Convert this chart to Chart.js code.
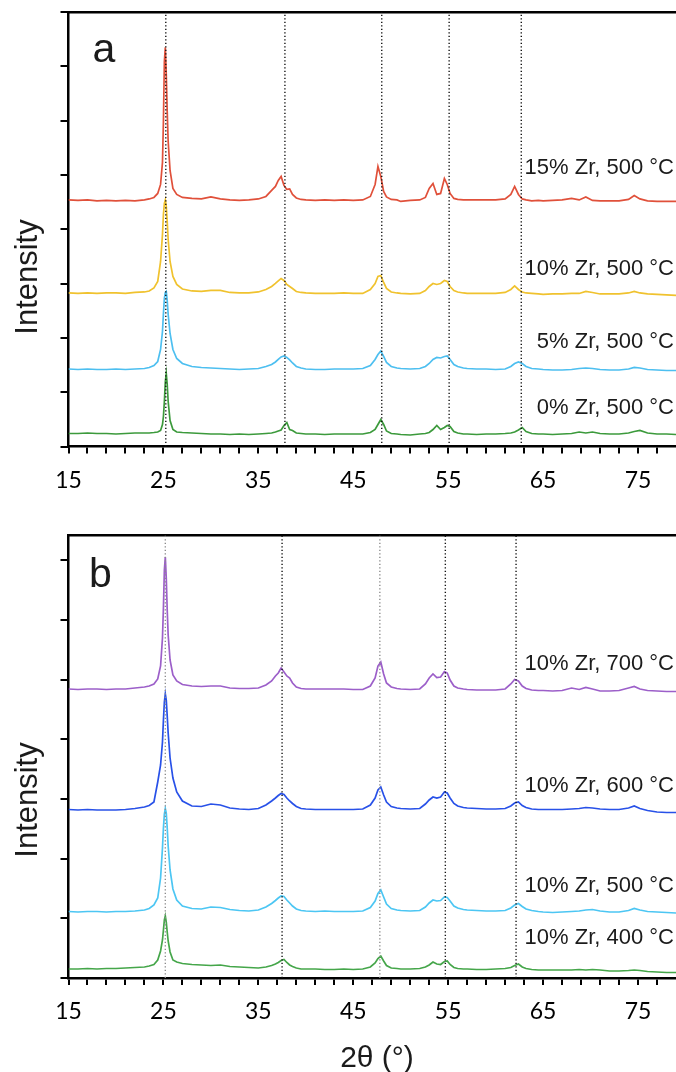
<!DOCTYPE html>
<html>
<head>
<meta charset="utf-8">
<title>XRD patterns</title>
<script src="https://cdn.jsdelivr.net/npm/chart.js@4.4.1/dist/chart.umd.min.js"></script>
<style>
  html, body { margin: 0; padding: 0; background: #fff; }
  body { width: 676px; height: 1072px; position: relative; overflow: hidden; }
  canvas { position: absolute; left: 0; }
  #panelA { top: 0; }
  #panelB { top: 510px; }
</style>
</head>
<body>
<canvas id="panelA" width="676" height="510"></canvas>
<canvas id="panelB" width="676" height="562"></canvas>
<script>
// 2theta sampling shared by every pattern (degrees)
const twoTheta = [
  15, 16, 17, 18, 19, 20, 21, 22, 23, 23.5,
  24, 24.4, 24.7, 24.9, 25.0, 25.1, 25.2, 25.3, 25.4, 25.5,
  25.7, 26.0, 26.4, 27, 28, 29, 30, 31, 32, 33,
  34, 35, 35.8, 36.4, 36.8, 37.1, 37.4, 37.7, 38.0, 38.3,
  38.6, 39.0, 39.5, 40, 41, 42, 43, 44, 45, 46,
  46.8, 47.3, 47.6, 47.9, 48.2, 48.5, 49.0, 49.6, 50, 51,
  52, 52.6, 53.0, 53.4, 53.8, 54.2, 54.6, 54.9, 55.2, 55.6,
  56.0, 56.6, 57, 58, 59, 60, 61, 61.6, 62.0, 62.4,
  62.8, 63.2, 63.8, 64.5, 65, 66, 67, 68, 68.8, 69.5,
  70.2, 71, 72, 73, 74, 74.6, 75.2, 76, 77, 78,
  79
];

// panel a: Zr loading series, calcined at 500 °C (stacked, a.u.)
const zr15 = [
  246.5, 246, 246.5, 245.5, 246, 245.5, 246, 245.5, 246.5, 247.5,
  249, 253, 262, 284, 325, 385, 399, 372, 335, 305,
  276, 258, 252, 249, 248, 247.5, 249.5, 247.5, 246.5, 246,
  246.5, 247.5, 250, 256, 260, 266, 270, 261, 257, 257.5,
  252, 248.5, 247, 246.5, 246, 246.5, 246, 246.5, 246, 246.5,
  250, 262, 280, 270, 255, 249.5, 247, 246.5, 245, 246,
  246.5, 249, 258, 263, 252, 253, 268, 262, 253, 248,
  247, 246.5, 246.5, 246.5, 246.5, 246.5, 247.5, 252, 260, 252,
  247.5, 246.5, 245.5, 246, 245.5, 246, 246.5, 248, 246.5, 249.5,
  246, 245.5, 245.5, 245.5, 247, 251, 247.5, 245.5, 245, 245,
  245
];
const zr10 = [
  153.5, 153, 153.5, 153, 153.5, 153.5, 153, 154, 154.5, 155.5,
  158.5, 165, 185, 212, 232, 243, 246.5, 240, 225, 207,
  185, 170, 162, 157.5, 155.5, 155, 156, 156, 154, 153.5,
  153.5, 154.5, 157, 160, 163, 165.5, 168, 166, 162, 160,
  158, 155, 154, 153.5, 153, 153, 153, 153.5, 153, 153,
  157, 163, 170, 171, 164, 158, 154.5, 153.5, 153, 152.5,
  153, 156, 160, 163, 162, 163, 166, 165, 160, 156,
  154.5, 153.5, 153, 153, 153, 153, 154, 157, 160.5, 157,
  154.5, 153.5, 153, 152.5, 152, 152.5, 152.5, 153, 153, 155,
  154, 152.5, 152.5, 152.5, 153.5, 155, 153.5, 152.5, 152, 151.5,
  151
];
const zr5 = [
  77.5, 77, 77.5, 77, 77, 77.5, 77, 77.5, 78, 79,
  81, 85, 97, 115, 133, 148, 154, 155, 146, 132,
  113, 97, 88, 83, 80, 79, 78.5, 78, 77.5, 77,
  77.5, 78, 80, 82, 84.5, 87, 89.5, 90.5, 89, 86.5,
  83.5, 80, 78.5, 77.5, 77, 77, 77.5, 77.5, 77.5, 78,
  81, 87, 92, 95.5, 90, 84, 80, 78.5, 78, 77.5,
  78, 80, 83, 87, 89, 88.5, 90, 90.5, 87, 82,
  80, 78.5, 78, 77.5, 77.5, 77, 77.5, 80, 83, 84.5,
  83, 80, 78, 77.5, 77, 76.5, 76.5, 77, 78, 78.5,
  78, 77, 76.5, 76.5, 77.5, 79, 78.5, 77, 76.5, 76,
  76
];
const zr0 = [
  13, 13, 13.5, 13, 13, 12.5, 13, 13.5, 13.5, 13.5,
  14, 14.5, 16, 22, 30, 45, 65, 73, 62, 45,
  26, 17, 14.5, 14, 13.5, 13, 12.5, 12.5, 12, 12.5,
  12, 12.5, 13, 13.5, 14.5, 15.5, 16.5, 21, 24, 17,
  16, 13.5, 13, 12.5, 12.5, 12, 12.5, 12.5, 12.5, 12.5,
  14, 17, 22, 27, 22, 15.5, 13, 12.5, 12, 11.5,
  12.5, 13, 14, 17, 21, 17, 19, 21, 20, 15,
  13.5, 12.5, 12.5, 12, 12.5, 12.5, 13, 13.5, 14.5, 16.5,
  19, 15, 13, 12.5, 12.5, 12, 12.5, 13, 14.5, 13.5,
  14.5, 13, 12.5, 12.5, 13.5, 15, 16, 13.5, 12.5, 12.5,
  12
];

// panel b: 10% Zr, calcination temperature series (stacked, a.u.)
const t700 = [
  289, 288.5, 289, 289, 288.5, 289, 289, 290, 291, 292,
  294, 299, 312, 340, 370, 408, 421, 400, 368, 343,
  318, 303, 297, 293.5, 292, 291.5, 292, 292, 290, 289.5,
  289.5, 290, 293, 297, 302, 305, 310, 306, 302, 300,
  295, 291, 289.5, 289, 289, 289, 289, 289, 288.5, 288.5,
  292, 300, 312, 316, 304, 295, 291, 289.5, 289, 288.5,
  289, 294, 300, 304, 300.5, 301, 306.5, 305, 298, 292,
  290, 289, 288.5, 288, 288, 288, 289, 294, 298.5, 297,
  292, 289.5, 288, 287.5, 287.5, 287, 287.5, 290, 288.5, 290.5,
  289, 287, 287, 287.5, 290, 291.5, 289, 287.5, 287, 286.5,
  286.5
];
const t600 = [
  168.5, 168, 168.5, 168, 168, 168, 168.5, 169.5, 171, 172.5,
  176, 196, 213, 236, 258, 276, 284, 278, 262, 245,
  220, 200, 186, 177, 172, 171.5, 174, 173, 170, 169,
  168.5, 169.5, 173, 177, 180, 182.5, 184.5, 183.5, 180, 177,
  174.5, 171.5, 169.5, 169, 168.5, 168.5, 168.5, 168.5, 168.5, 169,
  173, 180, 188, 191, 183, 176, 171.5, 170, 169.5, 169,
  169.5, 174, 178, 181, 180, 181, 186, 185, 180, 174.5,
  172, 170.5, 170, 169.5, 169, 169, 169.5, 172, 175, 176,
  172.5, 170.5, 169, 168.5, 168.5, 168.5, 168.5, 169, 169.5, 170.5,
  170, 169, 168.5, 168.5, 170, 172, 169.5, 167.5, 166, 165.5,
  165.5
];
const t500 = [
  66.5, 66, 66.5, 66.5, 66, 66.5, 66.5, 67, 68, 69.5,
  73, 80, 100, 130, 150, 164, 169.5, 165, 150, 132,
  108, 89, 78, 72, 69.5, 69, 71, 70.5, 68.5, 67.5,
  67, 68, 71, 74.5, 77.5, 80, 82, 81.5, 78, 75,
  72, 69, 67.5, 67, 66.5, 67, 66.5, 66.5, 66.5, 67,
  70.5, 77, 84.5, 88, 81, 74, 69.5, 68, 67.5, 67,
  67.5, 71, 75, 78, 77, 77.5, 81, 80.5, 77, 72,
  70, 68.5, 68, 67.5, 67, 67, 67.5, 70, 73, 74.5,
  71.5, 69, 67.5, 66.5, 66, 65.5, 66, 66.5, 67, 68,
  68.5, 67, 66, 66, 67.5, 69.5, 68, 66.5, 66, 65.5,
  65
];
const t400 = [
  9, 9, 9.5, 9, 9.5, 9.5, 10, 10.5, 11, 12,
  13.5, 18, 27, 38, 48, 58, 62, 56, 46, 37,
  26, 18, 16, 14.5, 13.5, 13, 12.5, 13, 11.5, 11,
  10.5, 10, 11, 12.5, 14, 15.5, 17.5, 18.5, 15.5, 13,
  11.5, 10, 9, 9, 9, 8.5, 8.5, 9, 8.5, 9,
  11, 15, 19.5, 22, 17, 12.5, 10, 9.5, 9, 9,
  9.5, 11, 13, 16, 14, 13.5, 16.5, 17, 13.5, 10.5,
  9.5, 9, 9, 8.5, 8.5, 9, 9.5, 10.5, 12.5, 14,
  11, 9.5, 8.5, 8, 8, 8, 8, 8, 8.5, 8,
  8.5, 8, 7, 7, 7.5, 8, 7.5, 6.5, 6, 5.5,
  5.5
];

// anatase reflections marked with dotted lines
const peaksA = [25.25, 37.8, 48.0, 55.1, 62.7];
const peaksB = [25.2, 37.5, 47.8, 54.7, 62.15];

const samplesA = ['15% Zr, 500 °C', '10% Zr, 500 °C', '5% Zr, 500 °C', '0% Zr, 500 °C'];
const samplesB = ['10% Zr, 700 °C', '10% Zr, 600 °C', '10% Zr, 500 °C', '10% Zr, 400 °C'];

// axis ticks
const twoThetaTicks = [15, 17, 19, 21, 23, 25, 27, 29, 31, 33, 35, 37, 39, 41, 43, 45,
  47, 49, 51, 53, 55, 57, 59, 61, 63, 65, 67, 69, 71, 73, 75, 77];
const twoThetaLabels = [15, 25, 35, 45, 55, 65, 75];
const intensityTicksA = [0, 54.3, 108.6, 162.9, 217.2, 271.5, 325.8, 380.1, 434.4];
const intensityTicksB = [0, 59.7, 119.4, 179.1, 238.8, 298.5, 358.2, 417.9];

const SANS = '"Liberation Sans", Arial, sans-serif';

const panelText = {
    id: 'panelText',
    afterDraw(chart, args, opts) {
        const ctx = chart.ctx;
        const yScale = chart.scales.y;
        ctx.save();
        ctx.fillStyle = '#1b1b1b';
        ctx.textBaseline = 'alphabetic';

        ctx.font = '41px ' + SANS;
        ctx.textAlign = 'left';
        ctx.fillText(opts.letter, opts.letterX, opts.letterY);

        ctx.font = '22px ' + SANS;
        ctx.textAlign = 'right';
        opts.samples.forEach((name, i) => {
            ctx.fillText(name, 674, yScale.getPixelForValue(opts.sampleY[i]));
        });

        ctx.font = '31px ' + SANS;
        ctx.textAlign = 'center';
        ctx.save();
        ctx.translate(37, opts.titleY);
        ctx.rotate(-Math.PI / 2);
        ctx.fillText('Intensity', 0, 0);
        ctx.restore();

        if (opts.xTitle) {
            ctx.font = '30px ' + SANS;
            ctx.fillText(opts.xTitle, 377, 557);
        }
        ctx.restore();
    }
};

function toPoints(ys) {
    return twoTheta.map((x, i) => ({ x, y: ys[i] }));
}

function peakLines(peaks, top, colors) {
    return peaks.map((p, i) => ({
        data: [{ x: p, y: 0 }, { x: p, y: top }],
        borderColor: colors ? colors[i] : '#111',
        borderWidth: 1.4,
        borderDash: [1.3, 2.2],
        pointRadius: 0
    }));
}

function createPanel(id, cfg) {
    const ctx = document.getElementById(id).getContext('2d');
    const datasets = peakLines(cfg.peaks, cfg.yMax, cfg.peakColors).concat(
        cfg.series.map(s => ({
            data: toPoints(s.values),
            borderColor: s.color,
            borderWidth: 1.7,
            pointRadius: 0,
            tension: 0
        }))
    );

    return new Chart(ctx, {
        type: 'line',
        data: { datasets },
        options: {
            responsive: false,
            animation: false,
            devicePixelRatio: 1,
            layout: { padding: { left: 60.5, top: cfg.padTop, right: 0, bottom: 0 } },
            plugins: {
                legend: { display: false },
                tooltip: { enabled: false },
                panelText: cfg.text
            },
            scales: {
                x: {
                    type: 'linear',
                    min: 15,
                    max: 79,
                    afterBuildTicks: s => { s.ticks = twoThetaTicks.map(v => ({ value: v })); },
                    afterFit: s => { s.height = cfg.xAxisHeight; },
                    ticks: {
                        autoSkip: false,
                        maxRotation: 0,
                        padding: 13,
                        color: '#000',
                        font: { family: 'Lato', size: 23 },
                        callback: v => twoThetaLabels.includes(v) ? String(v) : ''
                    },
                    grid: { drawOnChartArea: false, drawTicks: true, tickLength: 7, color: '#000', lineWidth: 2 },
                    border: { display: true, color: '#000', width: 2.5 }
                },
                xTop: {
                    type: 'linear',
                    position: 'top',
                    min: 15,
                    max: 79,
                    afterFit: s => { s.height = 0; },
                    ticks: { display: false },
                    grid: { display: false, drawTicks: false },
                    border: { display: true, color: '#000', width: 2.5 }
                },
                y: {
                    type: 'linear',
                    min: 0,
                    max: cfg.yMax,
                    afterBuildTicks: s => { s.ticks = cfg.yTicks.map(v => ({ value: v })); },
                    afterFit: s => { s.width = 8; },
                    ticks: { display: false },
                    grid: { drawOnChartArea: false, drawTicks: true, tickLength: 8, color: '#000', lineWidth: 2 },
                    border: { display: true, color: '#000', width: 2.5 }
                }
            }
        },
        plugins: [panelText]
    });
}

document.addEventListener('DOMContentLoaded', function () {
    createPanel('panelA', {
        yMax: 434.4,
        yTicks: intensityTicksA,
        padTop: 12,
        xAxisHeight: 63.5,
        peaks: peaksA,
        series: [
            { values: zr15, color: '#e0503a' },
            { values: zr10, color: '#f0c22e' },
            { values: zr5, color: '#4dbff0' },
            { values: zr0, color: '#3c9a3c' }
        ],
        text: {
            letter: 'a', letterX: 92.5, letterY: 62,
            samples: samplesA, sampleY: [272.5, 171, 98, 32],
            titleY: 277
        }
    });

    createPanel('panelB', {
        yMax: 443,
        yTicks: intensityTicksB,
        padTop: 25,
        xAxisHeight: 94,
        peaks: peaksB,
        peakColors: ['#8c8c8c', '#111', '#8c8c8c', '#111', '#111'],
        series: [
            { values: t700, color: '#9c5fc9' },
            { values: t600, color: '#2851e8' },
            { values: t500, color: '#4cc6f3' },
            { values: t400, color: '#45a64a' }
        ],
        text: {
            letter: 'b', letterX: 89, letterY: 77,
            samples: samplesB, sampleY: [308, 186, 85.7, 34],
            titleY: 290,
            xTitle: '2θ (°)'
        }
    });
});
</script>
</body>
</html>
